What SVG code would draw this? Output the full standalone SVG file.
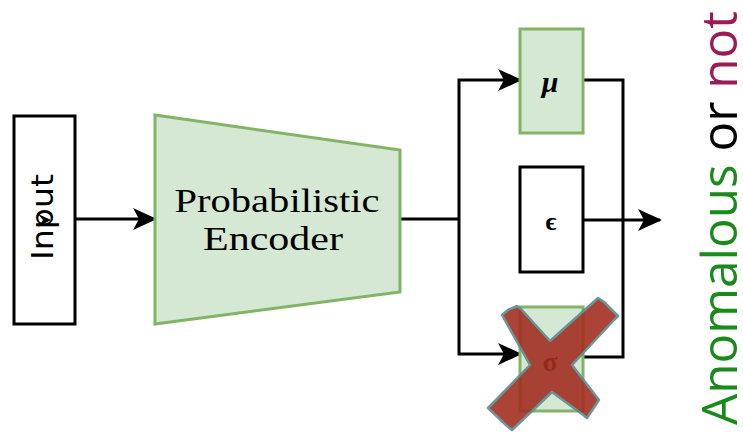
<svg xmlns="http://www.w3.org/2000/svg" width="743" height="432" viewBox="0 0 743 432">
  <defs>
    <style>
      .edge { fill: none; stroke: #000; stroke-width: 3; }
      .green { fill: #d5e8d4; stroke: #82b366; stroke-width: 3; }
      .plain { fill: #fff; stroke: #000; stroke-width: 3; }
      .serif { font-family: "Liberation Serif", "DejaVu Serif", serif; }
      .sym { font-family: "Liberation Serif", "DejaVu Serif", serif; font-weight: bold; text-anchor: middle; fill: #000; }
    </style>
    <marker id="arrow" viewBox="0 0 24 22" refX="22" refY="11" markerWidth="24" markerHeight="22" markerUnits="userSpaceOnUse" orient="auto">
      <path d="M0,0 L24,11 L0,22 L6,11 Z" fill="#000"/>
    </marker>
  </defs>

  <!-- connectors -->
  <g id="connectors">
    <line class="edge" x1="75" y1="219" x2="155" y2="219" marker-end="url(#arrow)"/>
    <polyline class="edge" points="400,219 459,219"/>
    <polyline class="edge" points="459,219 459,80 520,80" marker-end="url(#arrow)"/>
    <polyline class="edge" points="459,219 459,354 520,354" marker-end="url(#arrow)"/>
    <polyline class="edge" points="583,80 623,80 623,357 583,357"/>
    <line class="edge" x1="583" y1="220" x2="660" y2="220" marker-end="url(#arrow)"/>
  </g>

  <!-- input -->
  <g id="input">
    <rect class="plain" x="14" y="116" width="61" height="208"/>
    <text transform="translate(53,217) rotate(-90)" text-anchor="middle" font-family="'DejaVu Sans', sans-serif" font-size="30" textLength="86" lengthAdjust="spacingAndGlyphs" fill="#000">Input</text>
    <path d="M38,214 L51,220 L38,227 L43,220 Z" fill="#000"/>
  </g>

  <!-- encoder -->
  <g id="encoder">
    <polygon class="green" points="155,115 400,150 400,292 155,324"/>
    <text class="serif" x="277" y="212" text-anchor="middle" font-size="34" textLength="205" lengthAdjust="spacingAndGlyphs" fill="#000">Probabilistic</text>
    <text class="serif" x="273" y="250" text-anchor="middle" font-size="34" textLength="140" lengthAdjust="spacingAndGlyphs" fill="#000">Encoder</text>
  </g>

  <!-- mean -->
  <g id="mu">
    <rect class="green" x="520" y="29" width="63" height="104"/>
    <text class="sym" x="550" y="92" font-size="30" font-style="italic">μ</text>
  </g>

  <!-- noise -->
  <g id="epsilon">
    <rect class="plain" x="520" y="167" width="63" height="105"/>
    <text class="sym" x="551" y="230" font-size="26">ϵ</text>
  </g>

  <!-- standard deviation, crossed out -->
  <g id="sigma">
    <rect class="green" x="520" y="307" width="63" height="104"/>
    <text class="sym" x="550" y="371" font-size="28">σ</text>
  </g>
  <g id="cross" opacity="0.9">
    <path d="M517,306 L521,309 L550,341 L598,298 L604,302 L618,316 L614,320 L572,365 L599,400 L595,406 L587,418 L582,414 L552,392 L512,430 L506,425 L488,408 L492,404 L530,365 L502,315 L508,310 Z" fill="#a32f22" stroke="#5b8c92" stroke-width="2.5" stroke-linejoin="round"/>
  </g>

  <!-- result label -->
  <g id="result">
    <text transform="translate(737,218) rotate(-90)" text-anchor="middle" font-family="'Open Sans', 'Noto Sans', sans-serif" font-size="50" textLength="414" lengthAdjust="spacingAndGlyphs"><tspan fill="#1a8a1a">Anomalous</tspan><tspan fill="#000"> or </tspan><tspan fill="#9b1b54">not</tspan></text>
  </g>
</svg>
